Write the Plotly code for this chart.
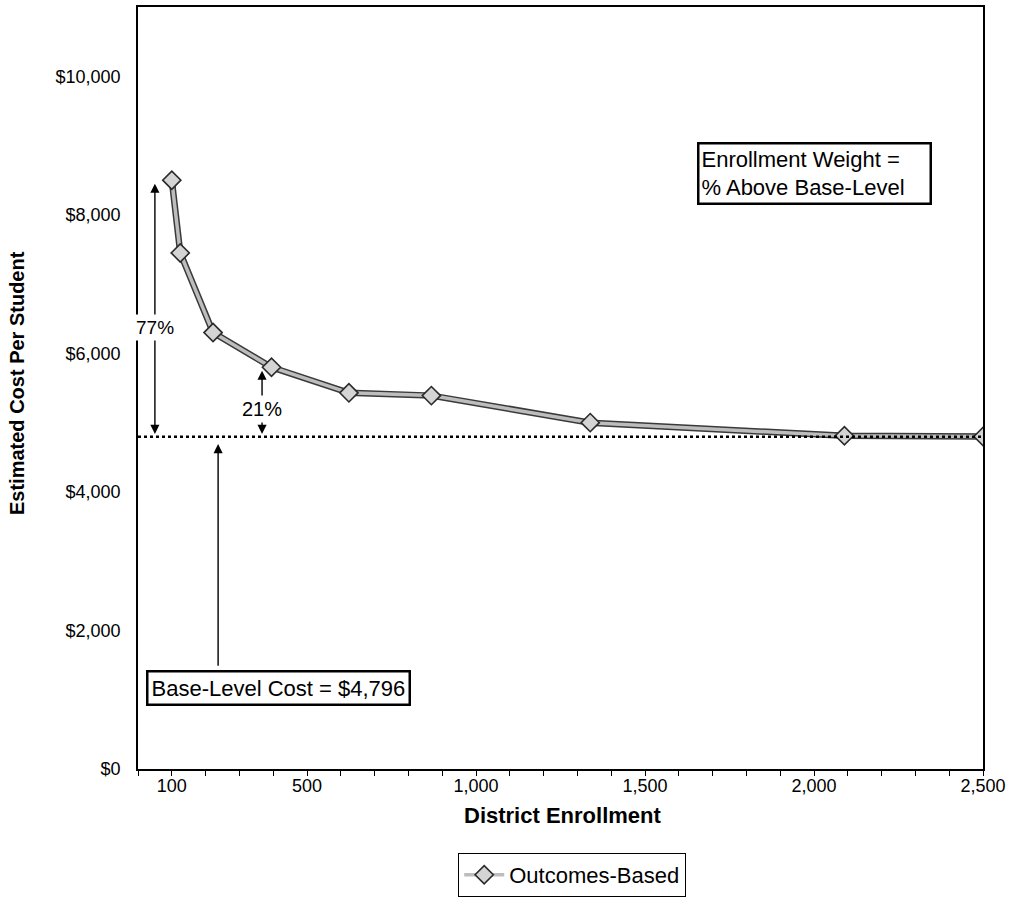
import plotly.graph_objects as go

# District enrollment vs. estimated cost per student (outcomes-based model)
enrollment = [100, 125, 222, 395, 624, 868, 1338, 2090, 2500]
cost_per_student = [8500, 7450, 6300, 5800, 5430, 5390, 5000, 4810, 4800]

base_cost = 4796
x_tick_vals = [100, 500, 1000, 1500, 2000, 2500]
x_tick_text = ["100", "500", "1,000", "1,500", "2,000", "2,500"]
y_tick_vals = [0, 2000, 4000, 6000, 8000, 10000]
y_tick_text = ["$0", "$2,000", "$4,000", "$6,000", "$8,000", "$10,000"]

FONT = "Liberation Sans, Arial, sans-serif"

fig = go.Figure()

# dark edge under the series line
fig.add_trace(go.Scatter(
    x=enrollment, y=cost_per_student, mode="lines",
    line=dict(color="#3a3a3a", width=6.5),
    showlegend=False, hoverinfo="skip", cliponaxis=True,
))
# series line with diamond markers
fig.add_trace(go.Scatter(
    x=enrollment, y=cost_per_student, mode="lines+markers",
    name="Outcomes-Based",
    line=dict(color="#bdbdbd", width=3.5),
    marker=dict(symbol="diamond", size=14, color="#d4d4d4",
                line=dict(color="#2a2a2a", width=1.6)),
    cliponaxis=True,
))

# base-level cost reference line
fig.add_shape(type="line", xref="paper", x0=0, x1=1, yref="y", y0=base_cost, y1=base_cost,
              line=dict(color="black", width=2.5, dash="dot"))

annotations = [
    # 77% double-headed arrow
    dict(x=50, y=8450, ax=50, ay=base_cost + 20, xref="x", yref="y", axref="x", ayref="y",
         text="", showarrow=True, arrowhead=2, arrowsize=1.3, arrowwidth=1.4,
         arrowside="end+start", arrowcolor="black"),
    dict(x=50, y=6380, xref="x", yref="y", text="77%", showarrow=False,
         font=dict(family=FONT, size=19, color="black"), bgcolor="white", borderpad=2),
    # 21% double-headed arrow
    dict(x=367, y=5750, ax=367, ay=base_cost + 20, xref="x", yref="y", axref="x", ayref="y",
         text="", showarrow=True, arrowhead=2, arrowsize=1.3, arrowwidth=1.4,
         arrowside="end+start", arrowcolor="black"),
    dict(x=367, y=5200, xref="x", yref="y", text="21%", showarrow=False,
         font=dict(family=FONT, size=20, color="black"), bgcolor="white", borderpad=2),
    # pointer from the base-level box up to the reference line
    dict(x=237, y=4690, ax=237, ay=1470, xref="x", yref="y", axref="x", ayref="y",
         text="", showarrow=True, arrowhead=2, arrowsize=1.3, arrowwidth=1.4,
         arrowcolor="black"),
    dict(x=415, y=1175, xref="x", yref="y", text="Base-Level Cost = $4,796",
         showarrow=False, font=dict(family=FONT, size=22, color="black"),
         bgcolor="white", bordercolor="black", borderwidth=2.5, borderpad=3),
    dict(x=2002, y=8595, xref="x", yref="y",
         text="Enrollment Weight =<br>% Above Base-Level", align="left", width=226,
         showarrow=False, font=dict(family=FONT, size=22, color="black"),
         bgcolor="white", bordercolor="black", borderwidth=2.5, borderpad=2),
    # axis titles
    dict(x=17, y=382, xref="paper", yref="paper", text="<b>Estimated Cost Per Student</b>",
         textangle=-90, showarrow=False, xanchor="center", yanchor="middle",
         font=dict(family=FONT, size=20, color="black")),
    dict(x=562, y=816, xref="paper", yref="paper", text="<b>District Enrollment</b>",
         showarrow=False, xanchor="center", yanchor="middle",
         font=dict(family=FONT, size=22, color="black")),
]

# axis titles placed in pixel terms, converted to paper coordinates
L, R, T, B = 138, 35, 5, 147
W, H = 1018, 916
pw, ph = W - L - R, H - T - B
for a in annotations[-2:]:
    a["x"] = (a["x"] - L) / pw
    a["y"] = (H - B - a["y"]) / ph

fig.update_layout(
    width=W, height=H,
    margin=dict(l=L, r=R, t=T, b=B),
    paper_bgcolor="white", plot_bgcolor="white",
    font=dict(family=FONT, size=18, color="black"),
    annotations=annotations,
    showlegend=True,
    legend=dict(
        orientation="h", x=(572 - L) / pw, xanchor="center",
        y=(H - B - 853) / ph, yanchor="top",
        bordercolor="black", borderwidth=1.2, bgcolor="white",
        font=dict(family=FONT, size=22, color="black"),
        itemwidth=40,
    ),
    xaxis=dict(
        range=[0, 2500], tickmode="array", tickvals=x_tick_vals, ticktext=x_tick_text,
        showline=True, mirror=True, linecolor="black", linewidth=1.6,
        ticks="",
        minor=dict(dtick=100, tick0=0, ticks="outside", ticklen=5, tickwidth=1.2,
                   tickcolor="black"),
        showgrid=False, zeroline=False,
        tickfont=dict(family=FONT, size=18, color="black"),
    ),
    yaxis=dict(
        range=[0, 11000], tickmode="array", tickvals=y_tick_vals, ticktext=y_tick_text,
        showline=True, mirror=True, linecolor="black", linewidth=1.6,
        ticks="", showgrid=False, zeroline=False, ticklabelstandoff=12,
        tickfont=dict(family=FONT, size=18, color="black"),
    ),
)

fig.write_html("out.html")
